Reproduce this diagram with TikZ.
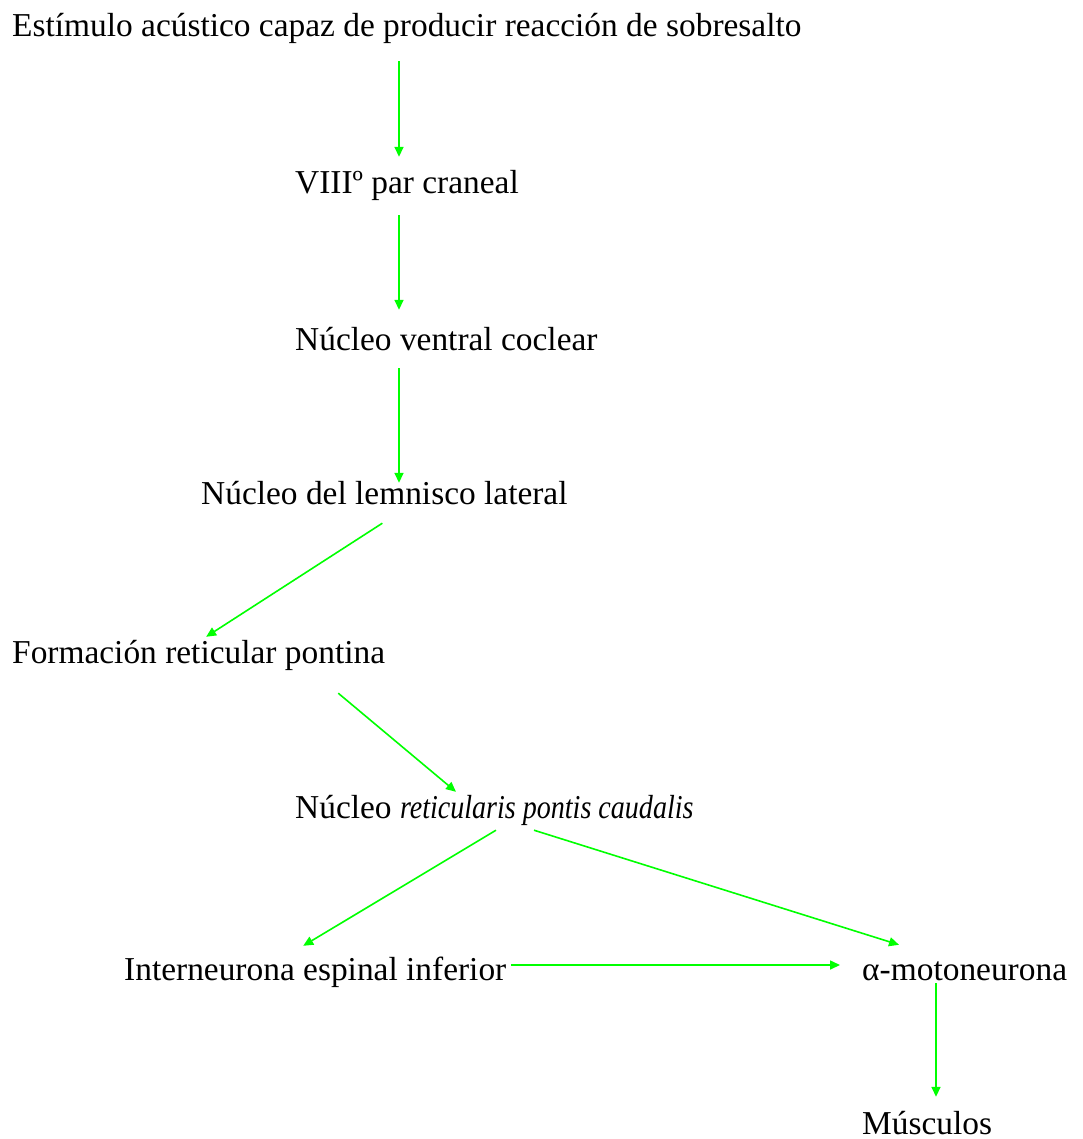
\documentclass[tikz,border=0pt]{standalone}
\usepackage{fontspec}
\setmainfont{Liberation Serif}
\usepackage{graphicx}
\usepackage{tikz}
\usetikzlibrary{arrows.meta}
\definecolor{verde}{HTML}{00FF00}
\tikzset{
  txt/.style={anchor=base west, inner sep=0pt, text height=23pt, text depth=7pt,
    font=\fontsize{33.4}{40}\selectfont},
  fl/.style={draw=verde, line width=1.6pt, -{Triangle[length=10pt,width=9pt]}},
}
\begin{document}
\begin{tikzpicture}[x=1pt,y=-1pt]
  \useasboundingbox (0,0) rectangle (1082,1139);
  \coordinate (eje) at (399,0);
  \node[txt] (estimulo) at (12,37) {Estímulo acústico capaz de producir reacción de sobresalto};
  \node[txt] (viii) at (295,194) {VIIIº par craneal};
  \node[txt] (ventral) at (295,350) {Núcleo ventral coclear};
  \node[txt] (lemnisco) at (201,504) {Núcleo del lemnisco lateral};
  \node[txt] (formacion) at (12,663) {Formación reticular pontina};
  \node[txt] (caudalis) at (295,818) {Núcleo \scalebox{0.84}[1]{\itshape reticularis pontis caudalis}};
  \node[txt] (inter) at (124,980) {Interneurona espinal inferior};
  \node[txt] (alfa) at (862,980) {α-motoneurona};
  \node[txt,text depth=0pt] (musculos) at (862,1134) {Músculos};
  \draw[fl,shorten <=17pt,shorten >=14pt] (estimulo.south -| eje) -- (viii.north -| eje);
  \draw[fl,shorten <=14pt,shorten >=17pt] (viii.south -| eje) -- (ventral.north -| eje);
  \draw[fl,shorten <=11pt,shorten >=-2pt] (ventral.south -| eje) -- (lemnisco.north -| eje);
  \draw[fl] ([xshift=-2pt,yshift=-12pt]lemnisco.south) -- ([xshift=7.5pt,yshift=3pt]formacion.north);
  \draw[fl] ([xshift=-47pt,yshift=-23pt]formacion.south east) -- ([xshift=161pt,yshift=3pt]caudalis.north west);
  \draw[fl] ([xshift=201pt,yshift=-5pt]caudalis.south west) -- ([xshift=-12pt,yshift=11pt]inter.north);
  \draw[fl] ([xshift=239pt,yshift=-5pt]caudalis.south west) -- ([xshift=37pt,yshift=12pt]alfa.north west);
  \draw[fl] ([xshift=5pt,yshift=7pt]inter.east) -- ([xshift=-22pt,yshift=7pt]alfa.west);
  \draw[fl,shorten <=-4pt,shorten >=14pt] ([xshift=74pt]alfa.south west) -- ([xshift=74pt]musculos.north west);
\end{tikzpicture}
\end{document}
